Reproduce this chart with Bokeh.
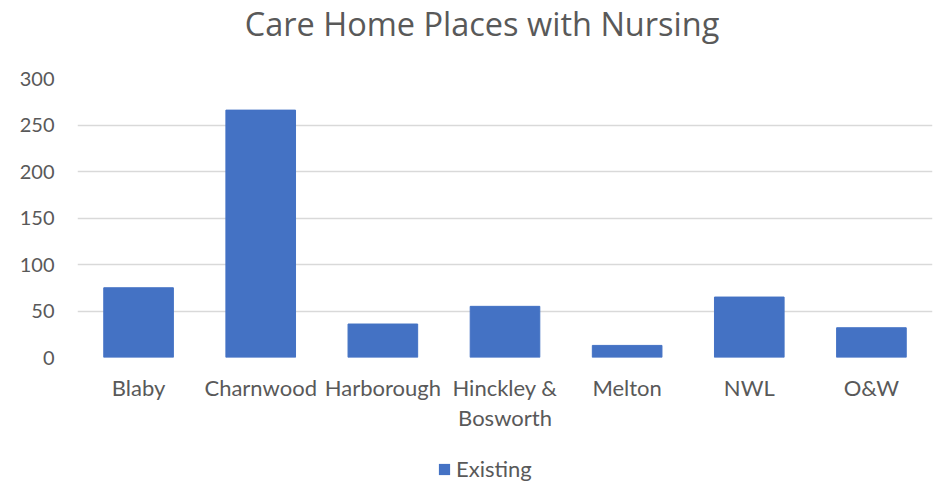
from bokeh.plotting import figure
from bokeh.models import ColumnDataSource, Range1d, FactorRange, Legend, LegendItem, FixedTicker, Label
from bokeh.layouts import column
from bokeh.embed import file_html
from bokeh.resources import INLINE

title_text = "Care Home Places with Nursing"
categories = ["Blaby", "Charnwood", "Harborough", "Hinckley &\nBosworth", "Melton", "NWL", "O&W"]
existing = [75, 266, 36, 55, 13, 65, 32]
y_ticks = [0, 50, 100, 150, 200, 250, 300]
series_name = "Existing"

FONT = "Lato"
TXT = "#595959"
BAR = "#4472C4"

src = ColumnDataSource(data=dict(cat=categories, val=existing))


def strip(h, x_range, y_range):
    f = figure(width=948, height=h, output_backend="svg", toolbar_location=None,
               x_axis_location=None, y_axis_location=None, min_border=0,
               x_range=x_range, y_range=y_range)
    f.outline_line_color = None
    f.xgrid.grid_line_color = None
    f.ygrid.grid_line_color = None
    return f


# title strip
tq = strip(50, Range1d(0, 1), Range1d(0, 1))
tq.add_layout(Label(x=404.5, y=27, x_units="screen", y_units="screen", text=title_text,
                    text_font="Open Sans", text_font_size="32.5px", text_color=TXT,
                    text_align="center", text_baseline="alphabetic"))

# main chart
p = figure(width=948, height=400, x_range=FactorRange(*categories, range_padding=0),
           y_range=Range1d(0, 300), output_backend="svg", toolbar_location=None)
p.min_border_left = 77
p.min_border_right = 16
p.min_border_top = 28
p.min_border_bottom = 93
p.outline_line_color = None

p.vbar(x="cat", top="val", width=0.57, source=src, fill_color=BAR, line_color=BAR)

p.yaxis.ticker = FixedTicker(ticks=y_ticks)
for ax in (p.xaxis, p.yaxis):
    ax.axis_line_color = None
    ax.major_tick_line_color = None
    ax.minor_tick_line_color = None
    ax.major_label_text_font = FONT
    ax.major_label_text_color = TXT
p.xaxis.major_label_text_font_size = "22px"
p.yaxis.major_label_text_font_size = "20px"
p.xaxis.major_label_text_line_height = 1.12
p.yaxis.major_label_standoff = 17
p.xaxis.major_label_standoff = 10

p.xgrid.grid_line_color = None
p.ygrid.grid_line_color = "#d9d9d9"
p.ygrid.grid_line_width = 1.5

# legend strip (series drawn out of view below the page; only its legend entry shows)
q = strip(32, FactorRange(*categories, range_padding=0), Range1d(1000, 1001))
legend_src = q.vbar(x="cat", top="val", width=0.57, source=src, fill_color=BAR, line_color=None)
legend = Legend(items=[LegendItem(label=series_name, renderers=[legend_src], index=0)],
                location=(360, 0),
                orientation="horizontal", border_line_color=None, background_fill_alpha=0,
                label_text_font=FONT, label_text_font_size="22px", label_text_color=TXT,
                glyph_width=14, glyph_height=14, label_standoff=5, padding=0, margin=0,
                label_height=24)
q.add_layout(legend, "center")

layout = column(tq, p, q, spacing=0)
open("out.html", "w").write(file_html(layout, INLINE))
